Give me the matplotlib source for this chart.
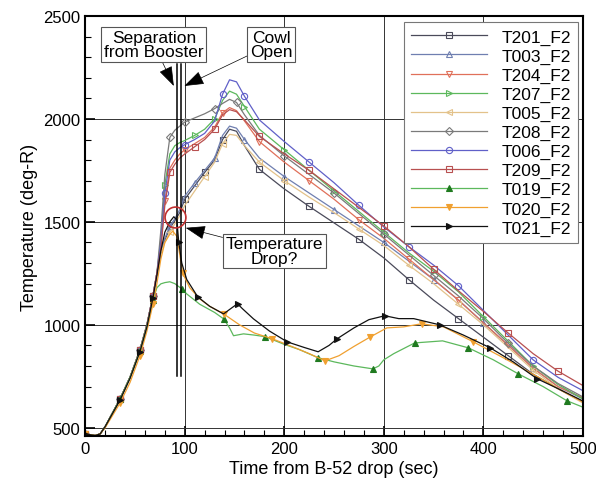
import matplotlib
matplotlib.use("Agg")
import matplotlib.pyplot as plt
from matplotlib.ticker import MultipleLocator

plt.rcParams['font.family'] = ['Liberation Sans', 'DejaVu Sans']

# time grid shared by the eight "upper" thermocouples
t_up = [0, 10, 15, 20, 35, 45, 55, 62, 68, 72, 76, 80, 85, 90, 95, 100, 110, 120, 130, 138,
        145, 152, 160, 175, 200, 225, 250, 275, 300, 325, 350, 375, 400, 425, 450, 475, 500]

early = [470, 462, 470, 505, 640, 745, 878, 1000, 1140, 1250]

T201 = early + [1350, 1410, 1470, 1505, 1545, 1610, 1675, 1740, 1800, 1900,
                1950, 1940, 1870, 1755, 1660, 1575, 1495, 1415, 1325, 1220,
                1120, 1030, 940, 850, 760, 690, 625]
T003 = early + [1360, 1420, 1480, 1515, 1560, 1625, 1690, 1750, 1810, 1920,
                1965, 1955, 1900, 1810, 1720, 1640, 1560, 1480, 1400, 1310,
                1220, 1120, 1010, 900, 790, 700, 640]
T204 = early + [1380, 1600, 1760, 1800, 1830, 1850, 1880, 1910, 1960, 2030,
                2055, 2040, 1990, 1890, 1790, 1700, 1610, 1510, 1420, 1320,
                1220, 1120, 1010, 900, 790, 700, 645]
T207 = early + [1420, 1680, 1830, 1870, 1885, 1895, 1920, 1950, 2000, 2090,
                2135, 2120, 2060, 1950, 1850, 1750, 1650, 1550, 1450, 1350,
                1260, 1160, 1040, 920, 800, 710, 640]
T005 = early + [1350, 1400, 1450, 1490, 1530, 1580, 1650, 1720, 1790, 1880,
                1925, 1920, 1870, 1790, 1700, 1620, 1545, 1465, 1385, 1290,
                1200, 1100, 1000, 890, 780, 690, 620]
T208 = early + [1460, 1730, 1910, 1945, 1965, 1985, 2005, 2025, 2050, 2075,
                2095, 2080, 2020, 1920, 1820, 1730, 1640, 1540, 1440, 1340,
                1240, 1140, 1030, 910, 800, 715, 650]
T006 = early + [1400, 1640, 1800, 1840, 1860, 1875, 1900, 1930, 1990, 2120,
                2190, 2180, 2110, 1995, 1890, 1790, 1690, 1580, 1475, 1380,
                1290, 1190, 1070, 950, 830, 745, 680]
T209 = early + [1370, 1580, 1740, 1780, 1810, 1830, 1865, 1900, 1950, 2020,
                2045, 2035, 1995, 1915, 1830, 1750, 1660, 1570, 1480, 1380,
                1270, 1165, 1065, 960, 860, 775, 705]

# the three sensors that show the temperature drop
t_T019 = [0, 10, 15, 20, 35, 45, 55, 62, 68, 72, 76, 80, 85, 90, 93, 97, 102, 115, 130, 139,
          145, 149, 159, 170, 181, 200, 215, 234, 250, 270, 289, 295, 300, 310, 331, 359,
          385, 410, 435, 460, 484, 500]
T019 = [470, 462, 470, 505, 640, 745, 875, 995, 1120, 1180, 1199, 1205, 1209, 1200, 1189,
        1175, 1150, 1100, 1060, 1029, 985, 947, 956, 950, 942, 905, 880, 840, 820, 800,
        786, 800, 830, 860, 912, 922, 888, 830, 762, 700, 631, 600]
t_T020 = [0, 10, 15, 20, 35, 45, 55, 62, 68, 72, 76, 80, 85, 88, 92, 95, 98, 105, 115, 125,
          139, 155, 170, 188, 210, 225, 241, 255, 270, 286, 303, 320, 338, 360, 390, 420,
          450, 475, 500]
T020 = [470, 462, 470, 500, 620, 720, 850, 970, 1100, 1200, 1320, 1400, 1440, 1455, 1430,
        1340, 1250, 1180, 1126, 1090, 1053, 1000, 960, 932, 890, 860, 825, 850, 895, 940,
        985, 990, 1005, 990, 917, 840, 760, 690, 625]
t_T021 = [0, 10, 15, 20, 35, 45, 55, 62, 68, 72, 76, 80, 85, 89, 92, 94, 97, 102, 113, 125,
          139, 148, 153, 158, 169, 185, 203, 220, 234, 245, 253, 270, 285, 301, 315, 330,
          356, 380, 407, 430, 454, 475, 500]
T021 = [470, 462, 470, 505, 635, 740, 870, 990, 1130, 1240, 1360, 1450, 1500, 1525, 1510,
        1400, 1300, 1220, 1136, 1090, 1053, 1085, 1102, 1078, 1029, 970, 917, 890, 869, 900,
        932, 985, 1025, 1044, 1030, 1030, 1000, 950, 888, 820, 738, 690, 630]

labels = ["T201_F2", "T003_F2", "T204_F2", "T207_F2", "T005_F2", "T208_F2",
          "T006_F2", "T209_F2", "T019_F2", "T020_F2", "T021_F2"]

series = [
    (t_up, T201, '#4a4a5a', 's', 'none', [0, 4, 6, 8, 15, 17, 19, 23, 25, 27, 29, 31, 33]),
    (t_up, T003, '#6f7fb0', '^', 'none', [0, 4, 6, 8, 12, 16, 18, 22, 24, 26, 28, 30, 32, 34]),
    (t_up, T204, '#e0705a', 'v', 'none', [0, 4, 6, 8, 11, 15, 19, 23, 25, 27, 29, 31, 33]),
    (t_up, T207, '#5cb85c', '>', 'none', [0, 4, 6, 8, 11, 16, 18, 22, 24, 26, 28, 30, 32, 34]),
    (t_up, T005, '#e3c28a', '<', 'none', [0, 4, 6, 8, 12, 17, 19, 23, 24, 27, 29, 31, 34]),
    (t_up, T208, '#7a7a7a', 'D', 'none', [0, 4, 6, 8, 12, 15, 18, 21, 24, 26, 28, 30, 33]),
    (t_up, T006, '#6060c8', 'o', 'none', [0, 4, 6, 8, 11, 15, 19, 22, 25, 27, 29, 31, 34]),
    (t_up, T209, '#b85050', 's', 'none', [0, 4, 6, 8, 12, 16, 18, 23, 25, 28, 30, 33, 35]),
    (t_T019, T019, '#5cb85c', '^', '#1f7a1f', [0, 4, 6, 8, 15, 19, 24, 27, 30, 34, 36, 38, 40]),
    (t_T020, T020, '#f0a030', 'v', '#f0a030', [0, 4, 6, 8, 16, 20, 23, 26, 29, 32, 34]),
    (t_T021, T021, '#111111', '>', '#111111', [0, 4, 6, 8, 15, 18, 22, 26, 30, 33, 36, 38, 40]),
]

fig = plt.figure(figsize=(5.96, 4.85), dpi=100)
ax = fig.add_axes([0.143, 0.099, 0.835, 0.866])

for (tt, vals, col, mk, fill, every), lab in zip(series, labels):
    ms = 4.5 if mk != 'D' else 3.8
    mec = col if fill == 'none' else fill
    ax.plot(tt, vals, color=col, lw=0.9, marker=mk, ms=ms, mfc=fill, mec=mec,
            mew=0.8, markevery=every, label=lab)

# separation / cowl open markers
for tv in [92.5, 96.5]:
    ax.plot([tv, tv], [750, 2265], color='black', lw=1.1)

ax.plot(90, 1524, 'o', ms=15, mfc='none', mec='#c03030', mew=1.2)

box = dict(boxstyle='square,pad=0.15', fc='white', ec='#555555', lw=0.8)
arr = dict(arrowstyle='-|>,head_length=1.0,head_width=0.35', color='black', lw=0.5,
           shrinkA=0, shrinkB=0)
ax.annotate("Separation\nfrom Booster", xy=(89, 2160), xytext=(69, 2362),
            ha='center', va='center', fontsize=12.5, linespacing=0.95, bbox=box,
            arrowprops=arr)
ax.annotate("Cowl\nOpen", xy=(99.5, 2160), xytext=(187, 2362),
            ha='center', va='center', fontsize=12.5, linespacing=0.95, bbox=box,
            arrowprops=arr)
ax.annotate("Temperature\nDrop?", xy=(101, 1471), xytext=(190, 1359),
            ha='center', va='center', fontsize=12.5, linespacing=0.95, bbox=box,
            arrowprops=arr)

ax.set_xlim(0, 500)
ax.set_ylim(460, 2500)
ax.xaxis.set_major_locator(MultipleLocator(100))
ax.xaxis.set_minor_locator(MultipleLocator(20))
ax.yaxis.set_major_locator(MultipleLocator(500))
ax.yaxis.set_minor_locator(MultipleLocator(100))
ax.tick_params(which='both', direction='in', labelsize=12)
ax.tick_params(which='major', length=7, width=1.2)
ax.tick_params(which='minor', length=4, width=0.8)
ax.grid(True, which='major', color='#333333', lw=0.7)
for s in ax.spines.values():
    s.set_linewidth(1.5)

ax.set_xlabel("Time from B-52 drop (sec)", fontsize=13, labelpad=3)
ax.set_ylabel("Temperature (deg-R)", fontsize=13, labelpad=4)

leg = ax.legend(loc='upper right', bbox_to_anchor=(0.99, 0.985), borderaxespad=0,
                fontsize=12.5, handlelength=4.4, handletextpad=0.8, labelspacing=0.22,
                borderpad=0.4, fancybox=False, framealpha=1, edgecolor='#777777',
                numpoints=1)
leg.get_frame().set_linewidth(0.8)

fig.savefig("out.png", dpi=100)
